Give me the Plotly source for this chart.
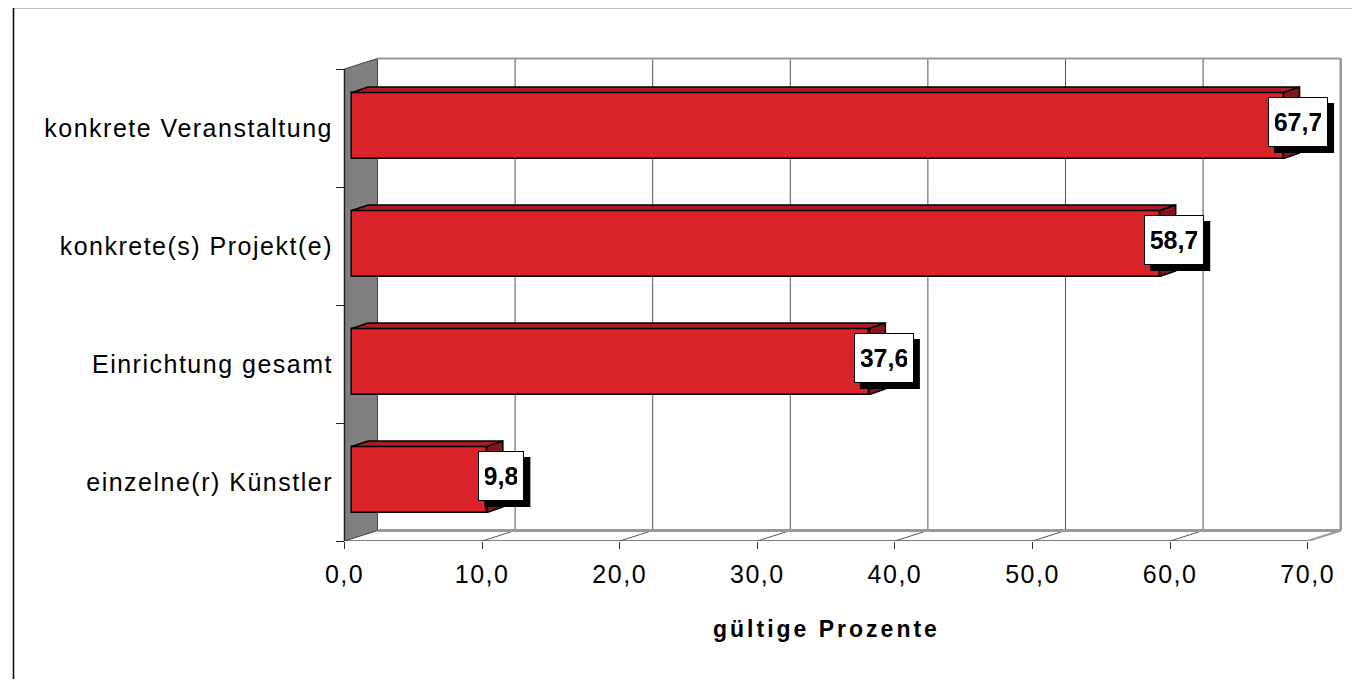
import plotly.graph_objects as go

# data (bottom to top)
categories = ["einzelne(r) Künstler", "Einrichtung gesamt",
              "konkrete(s) Projekt(e)", "konkrete Veranstaltung"]
values = [9.8, 37.6, 58.7, 67.7]
tick_values = [0, 10, 20, 30, 40, 50, 60, 70]
tick_labels = ["0,0", "10,0", "20,0", "30,0", "40,0", "50,0", "60,0", "70,0"]
axis_title = "gültige Prozente"

# page body margin is 8px, so the figure is a bit smaller than the window
OFF = 8
W, H = 1360 - 2 * OFF, 687 - 2 * OFF
FONT = "Liberation Sans, Arial, sans-serif"

# pixel scale of the front plane (window pixels)
x0_px, sx = 344.5, 13.76      # px of value 0, px per unit
y0_px, sy = 541.0, 118.0      # px of lower edge of first band, px per category

# 3D depth offsets in data units
dxw, dyw = 33 / sx, 10.5 / sy      # wall depth
dxf, dyf = 7.5 / sx, 2.5 / sy      # bar front face
dxb, dyb = 23.5 / sx, 8.0 / sy     # bar back face
bar_h = 66 / sy

xmax = tick_values[-1]
ybot, ytop = -0.5, len(categories) - 0.5

dom_x = (336 - OFF, 1352 - OFF)
dom_y = (50 - OFF, 541 - OFF)
x0f = x0_px - OFF

fig = go.Figure()

# front faces of the bars
fig.add_trace(go.Bar(
    x=values, y=[i + dyf for i in range(len(values))], base=dxf,
    orientation="h", width=bar_h,
    marker=dict(color="#DA2229", line=dict(color="black", width=1.5)),
    hoverinfo="skip", showlegend=False))

# top and side faces
top_x, top_y, side_x, side_y = [], [], [], []
for i, v in enumerate(values):
    t = i + dyf + bar_h / 2
    b = i + dyf - bar_h / 2
    d = dyb - dyf
    top_x += [dxf, v + dxf, v + dxb, dxb, dxf, None]
    top_y += [t, t, t + d, t + d, t, None]
    side_x += [v + dxf, v + dxf, v + dxb, v + dxb, v + dxf, None]
    side_y += [b, t, t + d, b + d, b, None]

fig.add_trace(go.Scatter(x=top_x, y=top_y, mode="lines", fill="toself",
                         fillcolor="#AA1C21", line=dict(color="black", width=1.5),
                         hoverinfo="skip", showlegend=False))
fig.add_trace(go.Scatter(x=side_x, y=side_y, mode="lines", fill="toself",
                         fillcolor="#84151A", line=dict(color="black", width=1.5),
                         hoverinfo="skip", showlegend=False))

shapes = []
# left wall
shapes.append(dict(type="path", layer="below",
                   path=f"M 0 {ybot} L 0 {ytop} L {dxw} {ytop + dyw} L {dxw} {ybot + dyw} Z",
                   fillcolor="#808080", line=dict(color="#404040", width=1)))
# back wall gridlines
for tv in tick_values[1:]:
    shapes.append(dict(type="line", layer="below", x0=tv + dxw, x1=tv + dxw,
                       y0=ybot + dyw, y1=ytop + dyw, line=dict(color="#555555", width=1)))
# floor lines
for tv in tick_values[1:-1]:
    shapes.append(dict(type="line", layer="below", x0=tv, x1=tv + dxw,
                       y0=ybot, y1=ybot + dyw, line=dict(color="#555555", width=1)))
# back wall frame
shapes.append(dict(type="line", layer="below", x0=dxw, x1=xmax + dxw,
                   y0=ytop + dyw, y1=ytop + dyw, line=dict(color="#999999", width=2)))
shapes.append(dict(type="line", layer="below", x0=xmax + dxw, x1=xmax + dxw,
                   y0=ybot + dyw, y1=ytop + dyw, line=dict(color="#999999", width=2.5)))
shapes.append(dict(type="line", layer="below", x0=dxw, x1=xmax + dxw,
                   y0=ybot + dyw, y1=ybot + dyw, line=dict(color="#999999", width=3)))
shapes.append(dict(type="line", layer="below", x0=xmax, x1=xmax + dxw,
                   y0=ybot, y1=ybot + dyw, line=dict(color="#999999", width=2)))
# front axes
shapes.append(dict(type="line", layer="below", x0=0, x1=xmax, y0=ybot, y1=ybot,
                   line=dict(color="#555555", width=1.5)))
shapes.append(dict(type="line", layer="below", x0=0, x1=0, y0=ybot, y1=ytop,
                   line=dict(color="#222222", width=1.5)))
# outer frame
shapes.append(dict(type="rect", xref="paper", yref="paper",
                   x0=(13.5 - OFF) / W, x1=1.02, y0=-0.02, y1=(H - (7.5 - OFF)) / H,
                   line=dict(color="black", width=1.5)))

# value labels: white box with a black drop shadow
annotations = []
for i, v in enumerate(values):
    txt = f"{v:.1f}".replace(".", ",")
    bw = 14 * len(txt) + 4          # box width in px
    lx, ly = v + 1.6, i + 0.05
    shapes.append(dict(type="rect", layer="above", xref="x", yref="y",
                       xsizemode="pixel", ysizemode="pixel", xanchor=lx, yanchor=ly,
                       x0=-bw / 2 + 6, x1=bw / 2 + 6, y0=-25 - 6, y1=25 - 6,
                       fillcolor="black", line=dict(width=0)))
    annotations.append(dict(
        x=lx, y=ly, xref="x", yref="y", text=txt, showarrow=False,
        font=dict(family=FONT, size=25, weight="bold", color="black"),
        bgcolor="white", bordercolor="black", borderwidth=1, borderpad=6,
        width=bw - 14, height=36))

annotations.append(dict(
    x=xmax / 2, y=(H - (629 - OFF)) / H, xref="x", yref="paper",
    xanchor="center", yanchor="middle", showarrow=False,
    text=f'<span style="letter-spacing:3px">{axis_title}</span>',
    font=dict(family=FONT, size=23, weight="bold", color="black")))

fig.update_layout(
    width=W, height=H, margin=dict(l=0, r=0, t=0, b=0, autoexpand=False),
    paper_bgcolor="white", plot_bgcolor="white",
    shapes=shapes, annotations=annotations, bargap=0,
    font=dict(family=FONT, color="black"),
    xaxis=dict(
        domain=[dom_x[0] / W, dom_x[1] / W],
        range=[(dom_x[0] - x0f) / sx, (dom_x[1] - x0f) / sx],
        tickmode="array", tickvals=tick_values,
        ticktext=[f'<span style="letter-spacing:1.5px">{t}</span>' for t in tick_labels],
        ticks="outside", ticklen=7, tickcolor="#333333",
        tickfont=dict(size=25, family=FONT, color="black"), automargin=False,
        showgrid=False, zeroline=False, showline=False, ticklabelstandoff=4),
    yaxis=dict(
        domain=[(H - dom_y[1]) / H, (H - dom_y[0]) / H],
        range=[ybot, ybot + (dom_y[1] - dom_y[0]) / sy],
        tickmode="array", tickvals=list(range(len(categories))),
        ticktext=[f'<span style="letter-spacing:1.5px">{c}</span>' for c in categories],
        ticks="", tickfont=dict(size=25, family=FONT, color="black"), automargin=False,
        minor=dict(tickmode="array", tickvals=[k - 0.5 for k in range(len(categories) + 1)],
                   ticks="inside", ticklen=8, tickcolor="#222222", showgrid=False),
        showgrid=False, zeroline=False, showline=False, ticklabelstandoff=2),
)

fig.write_html("out.html")
